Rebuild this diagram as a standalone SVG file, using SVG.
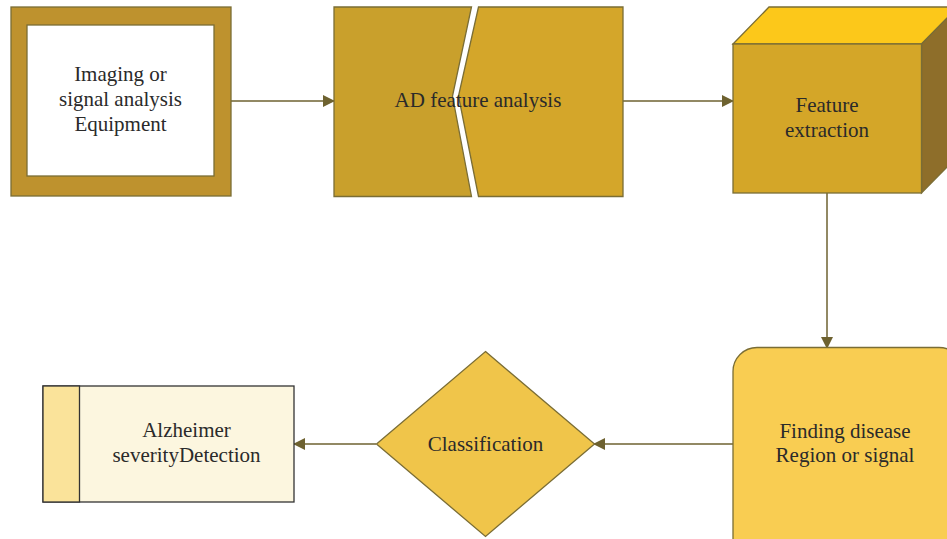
<svg xmlns="http://www.w3.org/2000/svg" width="947" height="539" viewBox="0 0 947 539">
<defs>
<marker id="arr" markerWidth="12" markerHeight="12" refX="11" refY="6" orient="auto" markerUnits="userSpaceOnUse">
<path d="M0,0 L12,6 L0,12 Z" fill="#6E6230"/>
</marker>
<style>
.t{font-family:"Liberation Serif","DejaVu Serif",serif;font-size:21px;fill:#2a2a2a;text-anchor:middle}
.s{stroke:#7A6D35;stroke-width:1.3}
.c{stroke:#6E6230;stroke-width:1.5;fill:none;marker-end:url(#arr)}
</style>
</defs>
<rect width="947" height="539" fill="#fff"/>
<g id="connectors">
<line class="c" x1="231" y1="101" x2="334" y2="101"/>
<line class="c" x1="623" y1="101" x2="733" y2="101"/>
<line class="c" x1="827" y1="193" x2="827" y2="348"/>
<line class="c" x1="733" y1="444" x2="594" y2="444"/>
<line class="c" x1="376" y1="444" x2="294" y2="444"/>
</g>
<g id="equipment">
<rect class="s" x="11" y="7" width="220" height="189" fill="#BE922E"/>
<rect class="s" x="27" y="25" width="187" height="151" fill="#fff"/>
<text class="t" x="120.5" y="81">Imaging or</text>
<text class="t" x="120.5" y="106">signal analysis</text>
<text class="t" x="120.5" y="131">Equipment</text>
</g>
<g id="ad-feature">
<path class="s" d="M334,7 L471.5,7 L452.5,96 L471.5,196.5 L334,196.5 Z" fill="#C9A02C"/>
<path class="s" d="M478.5,7 L623,7 L623,196.5 L478.5,196.5 L458.5,96 Z" fill="#D4A62A"/>
<text class="t" x="478" y="107">AD feature analysis</text>
</g>
<g id="feature-extraction">
<path class="s" d="M733,44 L769,7 L958,7 L921.5,44 Z" fill="#FCC81A"/>
<path class="s" d="M921.5,44 L958,7 L958,156 L921.5,193 Z" fill="#8E6E2A"/>
<rect class="s" x="733" y="44" width="188.5" height="149" fill="#D4A628"/>
<text class="t" x="827" y="112">Feature</text>
<text class="t" x="827" y="137">extraction</text>
</g>
<g id="finding">
<rect class="s" x="733" y="347.5" width="230" height="220" rx="24" ry="24" fill="#F9CD52"/>
<text class="t" x="845" y="438">Finding disease</text>
<text class="t" x="845" y="462">Region or signal</text>
</g>
<g id="classification">
<path class="s" d="M485.5,351.5 L594.5,444 L485.5,536.5 L376.5,444 Z" fill="#F0C54A"/>
<text class="t" x="485.5" y="451">Classification</text>
</g>
<g id="detection">
<rect x="43" y="386" width="251" height="116" fill="#FCF6DF" stroke="#333" stroke-width="1.3"/>
<rect x="43" y="386" width="36.5" height="116" fill="#FAE39A" stroke="#333" stroke-width="1.3"/>
<text class="t" x="186.5" y="437">Alzheimer</text>
<text class="t" x="186.5" y="462">severityDetection</text>
</g>
</svg>
